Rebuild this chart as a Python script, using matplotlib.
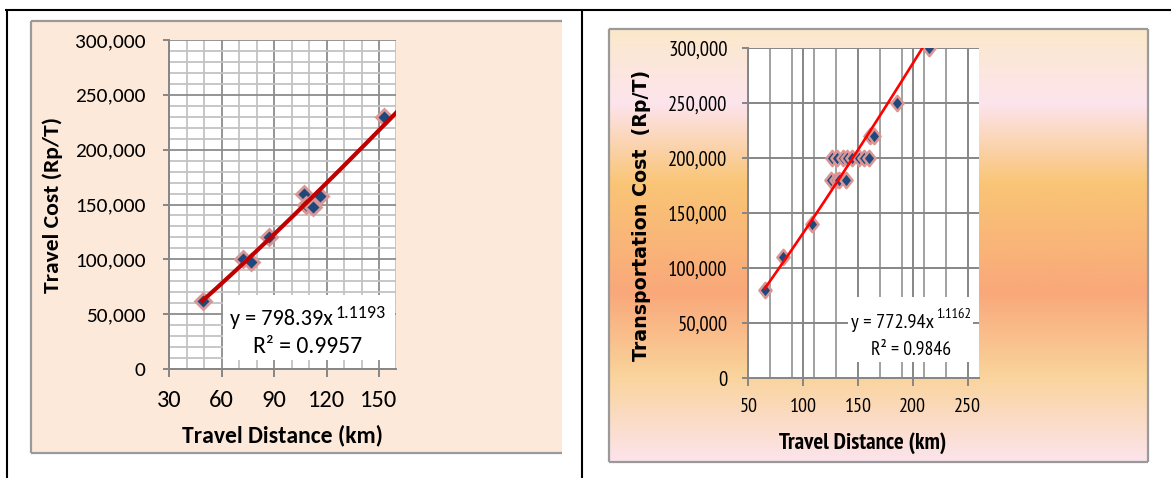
import numpy as np
import matplotlib
matplotlib.use("Agg")
import matplotlib.pyplot as plt
from matplotlib.patches import Rectangle
from matplotlib.lines import Line2D
from matplotlib.path import Path
from matplotlib.ticker import FixedLocator, MultipleLocator, FuncFormatter

# ---------------- data ----------------
# Panel A: travel cost vs. travel distance
dist_a = [49, 72, 77, 87, 107, 108, 112, 116, 153]
cost_a = [62000, 100000, 98000, 120000, 160000, 150000, 148000, 158000, 230000]
coef_a, expo_a, r2_a = 798.39, 1.1193, 0.9957

# Panel B: transportation cost vs. travel distance
dist_b = [65, 82, 108, 125, 130, 133, 139,
          126, 131, 136, 140, 145, 151, 156, 160,
          161, 165, 186, 215]
cost_b = [80000, 110000, 140000, 180000, 180000, 180000, 180000,
          200000, 200000, 200000, 200000, 200000, 200000, 200000, 200000,
          220000, 220000, 250000, 300000]
coef_b, expo_b, r2_b = 772.94, 1.1162, 0.9846

xticks_a = [30, 60, 90, 120, 150]
xticks_b = [50, 100, 150, 200, 250]
yticks = [0, 50000, 100000, 150000, 200000, 250000, 300000]

# ---------------- layout helpers ----------------
W, H = 1171, 478
fig = plt.figure(figsize=(W / 100, H / 100), dpi=100)
fig.patch.set_facecolor("white")

FONT_A = ["Carlito", "Liberation Sans", "DejaVu Sans"]
FONT_B = ["PT Sans Narrow", "Roboto Condensed", "Liberation Sans", "DejaVu Sans"]


def fx(x):
    return x / W


def fy(y):
    return 1 - y / H


def rect(x0, y0, x1, y1):
    return [x0 / W, 1 - y1 / H, (x1 - x0) / W, (y1 - y0) / H]


def fig_line(xs, ys, color, lw, z=5):
    fig.add_artist(Line2D([fx(v) for v in xs], [fy(v) for v in ys],
                          transform=fig.transFigure, color=color, lw=lw,
                          zorder=z, solid_capstyle="butt"))


thousands = FuncFormatter(lambda v, _: f"{v:,.0f}")
DIAMOND_FC = "#1F497D"
DIAMOND_EC = "#D99694"
# slightly narrow diamond for the second chart
NARROW_DIAMOND = Path([(0, 1), (0.8, 0), (0, -1), (-0.8, 0), (0, 1)],
                      [Path.MOVETO, Path.LINETO, Path.LINETO, Path.LINETO,
                       Path.CLOSEPOLY])

# ---------------- table frame ----------------
fig_line([5, W], [9.5, 9.5], "black", 1.5)
fig_line([6.5, 6.5], [9, H], "black", 1.5)
fig_line([582, 582], [9, H], "black", 1.5)

# ---------------- panel A background ----------------
fig.add_artist(Rectangle((fx(31), fy(453)), (562 - 31) / W, (453 - 21) / H,
                         transform=fig.transFigure, facecolor="#FDE9D9",
                         edgecolor="none", zorder=-3))
fig_line([31, 562], [21, 21], "#9A9A9A", 1.6, z=-1)
fig_line([31, 31], [21, 453], "#9A9A9A", 1.6, z=-1)
fig_line([31, 562], [453, 453], "#9A9A9A", 1.6, z=-1)

# ---------------- panel B gradient background ----------------
bg = fig.add_axes(rect(609, 29, 1148, 462), zorder=-3)
bg.set_axis_off()
stops = [0.0, 0.17, 0.355, 0.61, 0.80, 1.0]
cols = ["#FBE9CA", "#FDE4EE", "#F9C576", "#F9A87A", "#FAD39B", "#FCE4EC"]
rgb = np.array([matplotlib.colors.to_rgb(c) for c in cols])
t = np.linspace(0, 1, 400)
grad = np.stack([np.interp(t, stops, rgb[:, k]) for k in range(3)], axis=1)
bg.imshow(grad[:, None, :], aspect="auto", extent=[0, 1, 0, 1])
bg.set_xlim(0, 1)
bg.set_ylim(0, 1)
for xs, ys in [([609, 1148], [29, 29]), ([609, 1148], [462, 462]),
               ([609, 609], [29, 462]), ([1148, 1148], [29, 462])]:
    fig_line(xs, ys, "#9A9A9A", 1.6, z=-1)


def style_axes(ax, family):
    ax.set_facecolor("white")
    ax.set_axisbelow(True)
    for s in ("top", "right"):
        ax.spines[s].set_visible(False)
    for s in ("left", "bottom"):
        ax.spines[s].set_color("#868686")
        ax.spines[s].set_linewidth(1.4)
    ax.tick_params(which="major", direction="out", color="#868686", width=1.4,
                   labelfontfamily=family)
    ax.tick_params(which="minor", length=0)
    ax.yaxis.set_major_formatter(thousands)


# ---------------- panel A chart ----------------
axA = fig.add_axes(rect(169.3, 40, 396.5, 369))
style_axes(axA, FONT_A)
axA.set_xlim(30, 160)
axA.set_ylim(0, 300000)
axA.set_xticks(xticks_a)
axA.set_yticks(yticks)
axA.xaxis.set_minor_locator(MultipleLocator(10))
axA.yaxis.set_minor_locator(MultipleLocator(10000))
axA.grid(which="minor", color="#C3C3C3", lw=1.3)
axA.grid(which="major", color="#8C8C8C", lw=1.3)
axA.tick_params(axis="y", length=4, pad=13, labelsize=15)
axA.tick_params(axis="x", length=6, pad=9, labelsize=17)

axA.add_patch(Rectangle((0.236, 0.027), 0.757, 0.198, transform=axA.transAxes,
                        facecolor="white", edgecolor="none", zorder=1.5))
axA.plot(dist_a, cost_a, linestyle="none", marker="D", ms=8.2, mfc=DIAMOND_FC,
         mec=DIAMOND_EC, mew=2.0, zorder=3)
xa = np.linspace(min(dist_a), 160, 200)
axA.plot(xa, coef_a * xa ** expo_a, color="#C00000", lw=3.0, zorder=4)

xlab_a = axA.set_xlabel("Travel Distance (km)", family=FONT_A, fontsize=17,
                        fontweight="bold", va="center")
axA.xaxis.set_label_coords(0.5, -0.2006)
ylab_a = axA.set_ylabel("Travel Cost (Rp/T)", family=FONT_A, fontsize=17,
                        fontweight="bold", va="center")
axA.yaxis.set_label_coords(-0.512, 0.498)

eqA = fig.text(fx(333), fy(325), f"y = {coef_a}x", ha="right", va="baseline",
               family=FONT_A, fontsize=16.5)
expA = fig.text(fx(335), fy(318), f"{expo_a}", ha="left", va="baseline",
                family=FONT_A, fontsize=12.5)
r2A = fig.text(fx(308), fy(353), f"R² = {r2_a}", ha="center", va="baseline",
               family=FONT_A, fontsize=16.5)

# ---------------- panel B chart ----------------
axB = fig.add_axes(rect(748.3, 48.3, 978.5, 378.3))
style_axes(axB, FONT_B)
axB.set_xlim(50, 260)
axB.set_ylim(0, 300000)
axB.set_xticks(xticks_b)
axB.set_yticks(yticks)
axB.xaxis.set_minor_locator(FixedLocator(list(range(70, 251, 20))))
axB.grid(which="minor", axis="x", color="#9A9A9A", lw=1.3)
axB.grid(which="major", color="#868686", lw=1.4)
axB.tick_params(axis="y", length=4, pad=11, labelsize=14.5)
axB.tick_params(axis="x", length=6, pad=8, labelsize=14.5)

axB.add_patch(Rectangle((0.433, 0.049), 0.543, 0.197, transform=axB.transAxes,
                        facecolor="white", edgecolor="none", zorder=1.5))
axB.plot(dist_b, cost_b, linestyle="none", marker=NARROW_DIAMOND, ms=11,
         mfc=DIAMOND_FC, mec=DIAMOND_EC, mew=1.8, zorder=3)
xb = np.linspace(min(dist_b), max(dist_b), 200)
axB.plot(xb, coef_b * xb ** expo_b, color="#FF0000", lw=1.9, zorder=4)

xlab_b = axB.set_xlabel("Travel Distance (km)", family=FONT_B, fontsize=15,
                        fontweight="bold", va="center")
axB.xaxis.set_label_coords(0.498, -0.196)
ylab_b = axB.set_ylabel("Transportation Cost  (Rp/T)", family="DejaVu Sans",
                        fontsize=13.5, fontweight="bold", va="center")
axB.yaxis.set_label_coords(-0.462, 0.495)

eqB = fig.text(fx(934), fy(328), f"y = {coef_b}x", ha="right", va="baseline",
               family=FONT_B, fontsize=14)
expB = fig.text(fx(936), fy(318), f"{expo_b}", ha="left", va="baseline",
                family=FONT_B, fontsize=10.5)
r2B = fig.text(fx(911), fy(355), f"R² = {r2_b}", ha="center", va="baseline",
               family=FONT_B, fontsize=14)

# ---------------- size text to its printed extent ----------------
fig.canvas.draw()
renderer = fig.canvas.get_renderer()


def fit(txt, target, vertical=False):
    bb = txt.get_window_extent(renderer)
    cur = bb.height if vertical else bb.width
    if cur > 0:
        txt.set_fontsize(txt.get_fontsize() * target / cur)


def fit_ticks(ax, axis, label, target):
    labels = ax.get_yticklabels() if axis == "y" else ax.get_xticklabels()
    for lab in labels:
        if lab.get_text() == label:
            bb = lab.get_window_extent(renderer)
            ax.tick_params(axis=axis, labelsize=lab.get_fontsize() * target / bb.width)
            return


fit_ticks(axA, "y", "300,000", 70)
fit_ticks(axA, "x", "150", 37.5)
fit_ticks(axB, "y", "300,000", 59)
fit_ticks(axB, "x", "250", 27)
for txt, target, vert in [(eqA, 102.7, False), (expA, 50, False), (r2A, 108.7, False),
                          (xlab_a, 201, False), (ylab_a, 176, True),
                          (eqB, 83.3, False), (expB, 34.8, False), (r2B, 80.3, False),
                          (xlab_b, 168, False), (ylab_b, 290, True)]:
    fit(txt, target, vert)

fig.savefig("out.png", dpi=100)
